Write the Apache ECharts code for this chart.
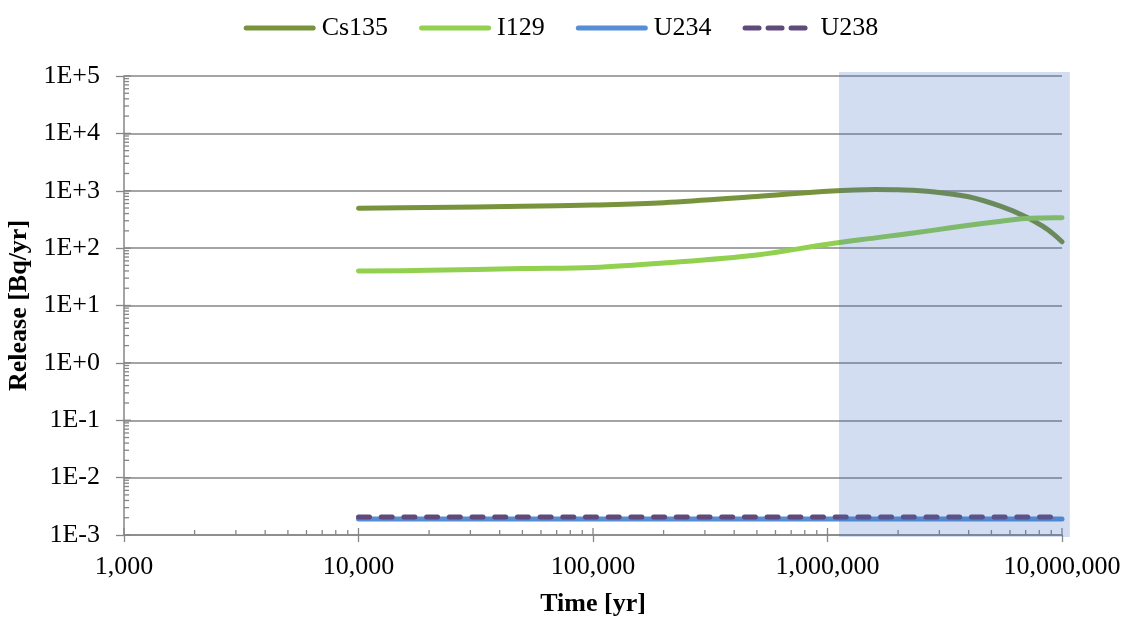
<!DOCTYPE html>
<html>
<head>
<meta charset="utf-8">
<script src="https://cdn.jsdelivr.net/npm/echarts@6/dist/echarts.min.js"></script>
<style>
  html, body { margin: 0; padding: 0; background: #ffffff; }
  #chart { width: 1122px; height: 618px; }
</style>
</head>
<body>
<div id="chart"></div>
<script>
// Release rates of the nuclides against time after closure
const timeYr = [10000, 20000, 50000, 100000, 200000, 500000, 1000000, 1600000, 2000000, 2800000, 4000000, 5500000, 7000000, 8300000, 9200000, 10000000];
const cs135 = [496, 510, 537, 565, 617, 795, 980, 1055, 1040, 965, 785, 533, 353, 239, 175, 129];
const i129 = [40, 41, 44, 46, 55, 76, 117, 151, 170, 204, 251, 295, 327, 336, 339, 340];
const timeU = [10000, 100000, 1000000, 10000000];
const u234 = [0.0019, 0.0019, 0.0019, 0.0019];
const u238 = [0.00205, 0.00205, 0.00205, 0.00205];

// Shaded late period (time span and release span it covers)
const shadeTime = [1120000, 10800000];
const shadeRelease = [0.00092, 117000];

// Axis ranges and tick structure
const timeRange = [1000, 10000000];
const releaseRange = [0.001, 100000];
const timeDecades = [1000, 10000, 100000, 1000000, 10000000];
const releaseDecades = [0.001, 0.01, 0.1, 1, 10, 100, 1000, 10000, 100000];
const minorSteps = [2, 3, 4, 5, 6, 7, 8, 9];

const FONT = '"Liberation Serif", "Times New Roman", serif';
const AXIS_GREY = '#868686';

// Legend glyphs: a rounded bar, and three rounded dashes
const ICON_SOLID = 'path://M2.5,0 H69.5 A2.5,2.5 0 0 1 69.5,5 H2.5 A2.5,2.5 0 0 1 2.5,0 Z';
const ICON_DASHED = 'path://M2.5,0 H16.5 A2.5,2.5 0 0 1 16.5,5 H2.5 A2.5,2.5 0 0 1 2.5,0 Z ' +
  'M25.5,0 H39.5 A2.5,2.5 0 0 1 39.5,5 H25.5 A2.5,2.5 0 0 1 25.5,0 Z ' +
  'M48.5,0 H62.5 A2.5,2.5 0 0 1 62.5,5 H48.5 A2.5,2.5 0 0 1 48.5,0 Z ' +
  'M71.9,2.4 H72 V2.5 H71.9 Z';

function pairs(xs, ys) { return xs.map((x, i) => [x, ys[i]]); }

// Inside tick marks (major and log-spaced minor) for both axes
const tickRows = [];
timeDecades.forEach((d, k) => {
  tickRows.push([d, releaseRange[0], 0, 1]);
  if (k < timeDecades.length - 1) minorSteps.forEach(m => tickRows.push([d * m, releaseRange[0], 0, 0]));
});
releaseDecades.forEach((d, k) => {
  tickRows.push([timeRange[0], d, 1, 1]);
  if (k < releaseDecades.length - 1) minorSteps.forEach(m => tickRows.push([timeRange[0], d * m, 1, 0]));
});

function fmtTime(v) {
  return Math.round(v).toString().replace(/\B(?=(\d{3})+(?!\d))/g, ',');
}
function fmtRelease(v) {
  const e = Math.round(Math.log10(v));
  return e >= 0 ? '1E+' + e : '1E' + e;
}

const chart = echarts.init(document.getElementById('chart'), null, { renderer: 'canvas' });

chart.setOption({
  animation: false,
  backgroundColor: '#ffffff',
  textStyle: { fontFamily: FONT },
  legend: {
    data: [
      { name: 'Cs135', icon: ICON_SOLID },
      { name: 'I129', icon: ICON_SOLID },
      { name: 'U234', icon: ICON_SOLID },
      { name: 'U238', icon: ICON_DASHED }
    ],
    top: 10,
    left: 'center',
    itemWidth: 72,
    itemHeight: 5,
    itemGap: 31,
    textStyle: { fontFamily: FONT, fontSize: 26, color: '#000000', padding: [0, 0, 0, 1] }
  },
  grid: { left: 124, right: 60, top: 76, bottom: 83, containLabel: false, outerBoundsMode: 'none' },
  xAxis: {
    type: 'log',
    logBase: 10,
    min: timeRange[0],
    max: timeRange[1],
    splitNumber: 4,
    name: 'Time [yr]',
    nameLocation: 'middle',
    nameGap: 56,
    nameTextStyle: { fontFamily: FONT, fontSize: 26, fontWeight: 'bold', color: '#000000' },
    axisLine: { show: true, lineStyle: { color: AXIS_GREY, width: 1.5 } },
    axisTick: { show: true, length: 7, lineStyle: { color: AXIS_GREY, width: 1.3 } },
    axisLabel: { formatter: fmtTime, fontFamily: FONT, fontSize: 26, color: '#000000', margin: 19 },
    splitLine: { show: false }
  },
  yAxis: {
    type: 'log',
    logBase: 10,
    min: releaseRange[0],
    max: releaseRange[1],
    splitNumber: 8,
    name: 'Release [Bq/yr]',
    nameLocation: 'middle',
    nameGap: 90,
    nameRotate: 90,
    nameTextStyle: { fontFamily: FONT, fontSize: 26, fontWeight: 'bold', color: '#000000' },
    axisLine: { show: true, lineStyle: { color: AXIS_GREY, width: 1.5 } },
    axisTick: { show: true, length: 8, lineStyle: { color: AXIS_GREY, width: 1.3 } },
    axisLabel: { formatter: fmtRelease, fontFamily: FONT, fontSize: 26, color: '#000000', margin: 24 },
    splitLine: { show: true, lineStyle: { color: AXIS_GREY, width: 1.6 } }
  },
  series: [
    {
      name: 'Cs135', type: 'line', z: 2, data: pairs(timeYr, cs135),
      smooth: 0.35, symbol: 'none', showSymbol: false,
      lineStyle: { color: '#77933c', width: 5, cap: 'round', join: 'round' },
      itemStyle: { color: '#77933c' }
    },
    {
      name: 'I129', type: 'line', z: 2, data: pairs(timeYr, i129),
      smooth: 0.35, symbol: 'none', showSymbol: false,
      lineStyle: { color: '#92d050', width: 5, cap: 'round', join: 'round' },
      itemStyle: { color: '#92d050' }
    },
    {
      name: 'U234', type: 'line', z: 2, data: pairs(timeU, u234),
      symbol: 'none', showSymbol: false,
      lineStyle: { color: '#558ed5', width: 5, cap: 'round' },
      itemStyle: { color: '#558ed5' }
    },
    {
      name: 'U238', type: 'line', z: 2, data: pairs(timeU, u238),
      symbol: 'none', showSymbol: false,
      lineStyle: { color: '#604a7b', width: 5, cap: 'round', type: [11, 11.7] },
      itemStyle: { color: '#604a7b' }
    },
    {
      name: 'late period', type: 'custom', z: 3, silent: true, clip: false,
      data: [[shadeTime[0], shadeTime[1], shadeRelease[0], shadeRelease[1]]],
      encode: { x: [0, 1], y: [2, 3] },
      renderItem: function (params, api) {
        const a = api.coord([api.value(0), api.value(3)]);
        const b = api.coord([api.value(1), api.value(2)]);
        return {
          type: 'rect',
          shape: { x: a[0], y: a[1], width: b[0] - a[0], height: b[1] - a[1] },
          style: { fill: 'rgba(68, 114, 196, 0.24)' }
        };
      }
    },
    {
      name: 'inner ticks', type: 'custom', z: 1, silent: true, clip: false,
      data: tickRows,
      encode: { x: 0, y: 1 },
      renderItem: function (params, api) {
        const p = api.coord([api.value(0), api.value(1)]);
        const onTime = api.value(2) === 0;
        const major = api.value(3) === 1;
        const len = major ? 7 : 5;
        const shape = onTime
          ? { x1: p[0], y1: p[1], x2: p[0], y2: p[1] - len }
          : { x1: p[0], y1: p[1], x2: p[0] + len, y2: p[1] };
        return { type: 'line', shape: shape, style: { stroke: AXIS_GREY, lineWidth: 1.3 } };
      }
    }
  ]
});
</script>
</body>
</html>
